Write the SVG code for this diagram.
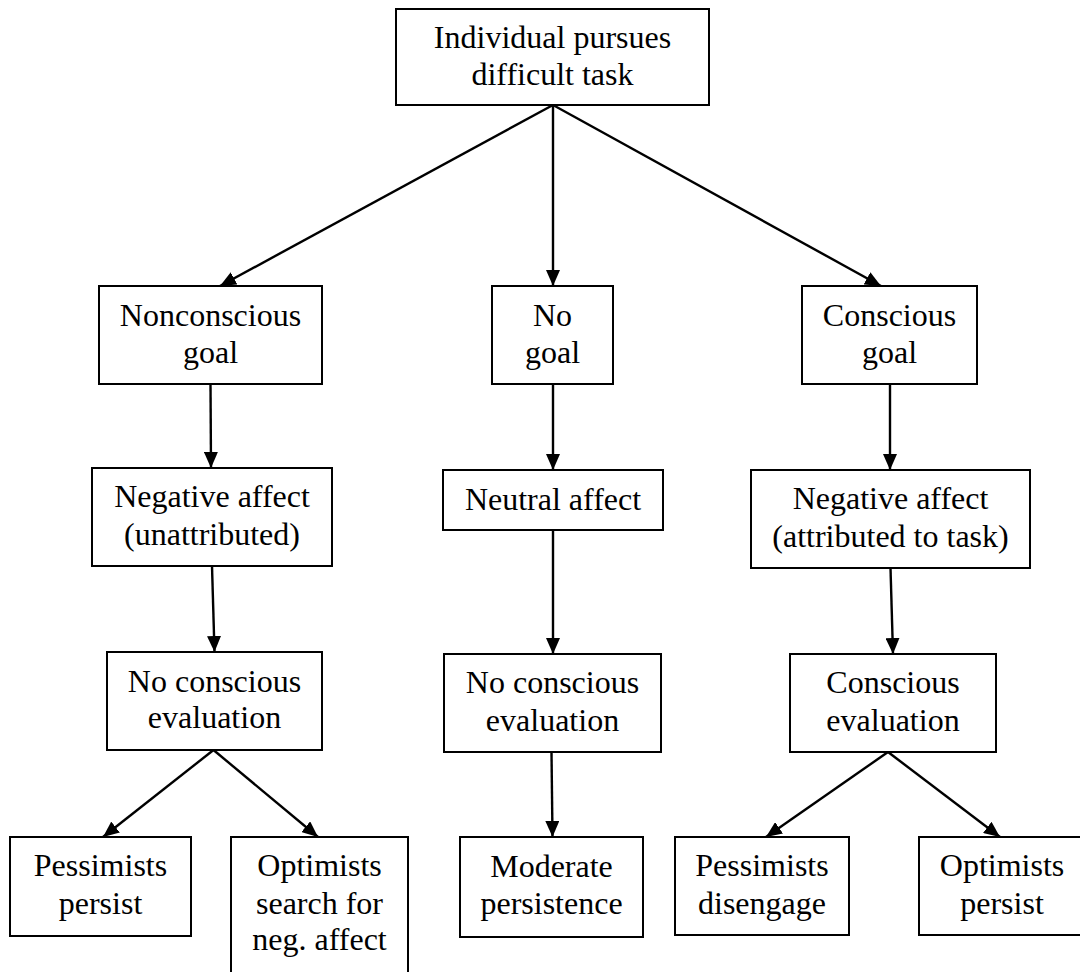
<svg xmlns="http://www.w3.org/2000/svg" width="1080" height="972" viewBox="0 0 1080 972">
<style>
.box{fill:#fff;stroke:#000;stroke-width:2}
.t{font-size:32px;fill:#000;text-anchor:middle}
.c{stroke:#000;stroke-width:2.4;fill:none;marker-end:url(#ah)}
</style>
<defs>
<marker id="ah" viewBox="0 0 16 14" refX="16" refY="7" markerWidth="16" markerHeight="14" markerUnits="userSpaceOnUse" orient="auto">
<path d="M0,0 L16,7 L0,14 z" fill="#000"/>
</marker>
</defs>
<rect width="1080" height="972" fill="#fff"/>
<g id="connectors">
<line class="c" x1="553" y1="105" x2="220" y2="286"/>
<line class="c" x1="553" y1="105" x2="553" y2="286"/>
<line class="c" x1="553" y1="105" x2="881" y2="286"/>
<line class="c" x1="210.5" y1="384" x2="211" y2="468"/>
<line class="c" x1="553" y1="384" x2="553" y2="470"/>
<line class="c" x1="890" y1="384" x2="890" y2="470"/>
<line class="c" x1="212" y1="566" x2="214.5" y2="652"/>
<line class="c" x1="553" y1="530" x2="553" y2="654"/>
<line class="c" x1="890.5" y1="568" x2="893" y2="654"/>
<line class="c" x1="213.5" y1="750" x2="103" y2="837"/>
<line class="c" x1="213.5" y1="750" x2="318" y2="837"/>
<line class="c" x1="551.5" y1="752" x2="552.5" y2="837"/>
<line class="c" x1="888" y1="752" x2="766" y2="837"/>
<line class="c" x1="888" y1="752" x2="1000" y2="837"/>
</g>
<g font-family="Liberation Serif, DejaVu Serif, serif">
<g id="n-top"><rect class="box" x="396" y="9" width="313" height="96"/><text class="t" x="552.5" y="48">Individual pursues</text><text class="t" x="552.5" y="85">difficult task</text></g>
<g id="n-nonconscious"><rect class="box" x="99" y="286" width="223" height="98"/><text class="t" x="210.5" y="326">Nonconscious</text><text class="t" x="210.5" y="363">goal</text></g>
<g id="n-nogoal"><rect class="box" x="492" y="286" width="121" height="98"/><text class="t" x="552.5" y="326">No</text><text class="t" x="552.5" y="363">goal</text></g>
<g id="n-conscious"><rect class="box" x="802" y="286" width="175" height="98"/><text class="t" x="889.5" y="326">Conscious</text><text class="t" x="889.5" y="363">goal</text></g>
<g id="n-negaff1"><rect class="box" x="92" y="468" width="240" height="98"/><text class="t" x="212" y="507">Negative affect</text><text class="t" x="212" y="545">(unattributed)</text></g>
<g id="n-neutral"><rect class="box" x="443" y="470" width="220" height="60"/><text class="t" x="553" y="510">Neutral affect</text></g>
<g id="n-negaff2"><rect class="box" x="751" y="470" width="279" height="98"/><text class="t" x="890.5" y="509">Negative affect</text><text class="t" x="890.5" y="547">(attributed to task)</text></g>
<g id="n-noeval1"><rect class="box" x="107" y="652" width="215" height="98"/><text class="t" x="214.5" y="692">No conscious</text><text class="t" x="214.5" y="728">evaluation</text></g>
<g id="n-noeval2"><rect class="box" x="444" y="654" width="217" height="98"/><text class="t" x="552.5" y="693">No conscious</text><text class="t" x="552.5" y="731">evaluation</text></g>
<g id="n-eval"><rect class="box" x="790" y="654" width="206" height="98"/><text class="t" x="893" y="693">Conscious</text><text class="t" x="893" y="731">evaluation</text></g>
<g id="n-pesspersist"><rect class="box" x="10" y="837" width="181" height="99"/><text class="t" x="100.5" y="876">Pessimists</text><text class="t" x="100.5" y="914">persist</text></g>
<g id="n-optsearch"><rect class="box" x="231" y="837" width="177" height="150"/><text class="t" x="319.5" y="876">Optimists</text><text class="t" x="319.5" y="914">search for</text><text class="t" x="319.5" y="950">neg. affect</text></g>
<g id="n-moderate"><rect class="box" x="460" y="837" width="183" height="100"/><text class="t" x="551.5" y="877">Moderate</text><text class="t" x="551.5" y="914">persistence</text></g>
<g id="n-pessdis"><rect class="box" x="675" y="837" width="174" height="98"/><text class="t" x="762" y="876">Pessimists</text><text class="t" x="762" y="914">disengage</text></g>
<g id="n-optpersist"><rect class="box" x="919" y="837" width="170" height="98"/><text class="t" x="1002" y="876">Optimists</text><text class="t" x="1002" y="914">persist</text></g>
</g>
</svg>
